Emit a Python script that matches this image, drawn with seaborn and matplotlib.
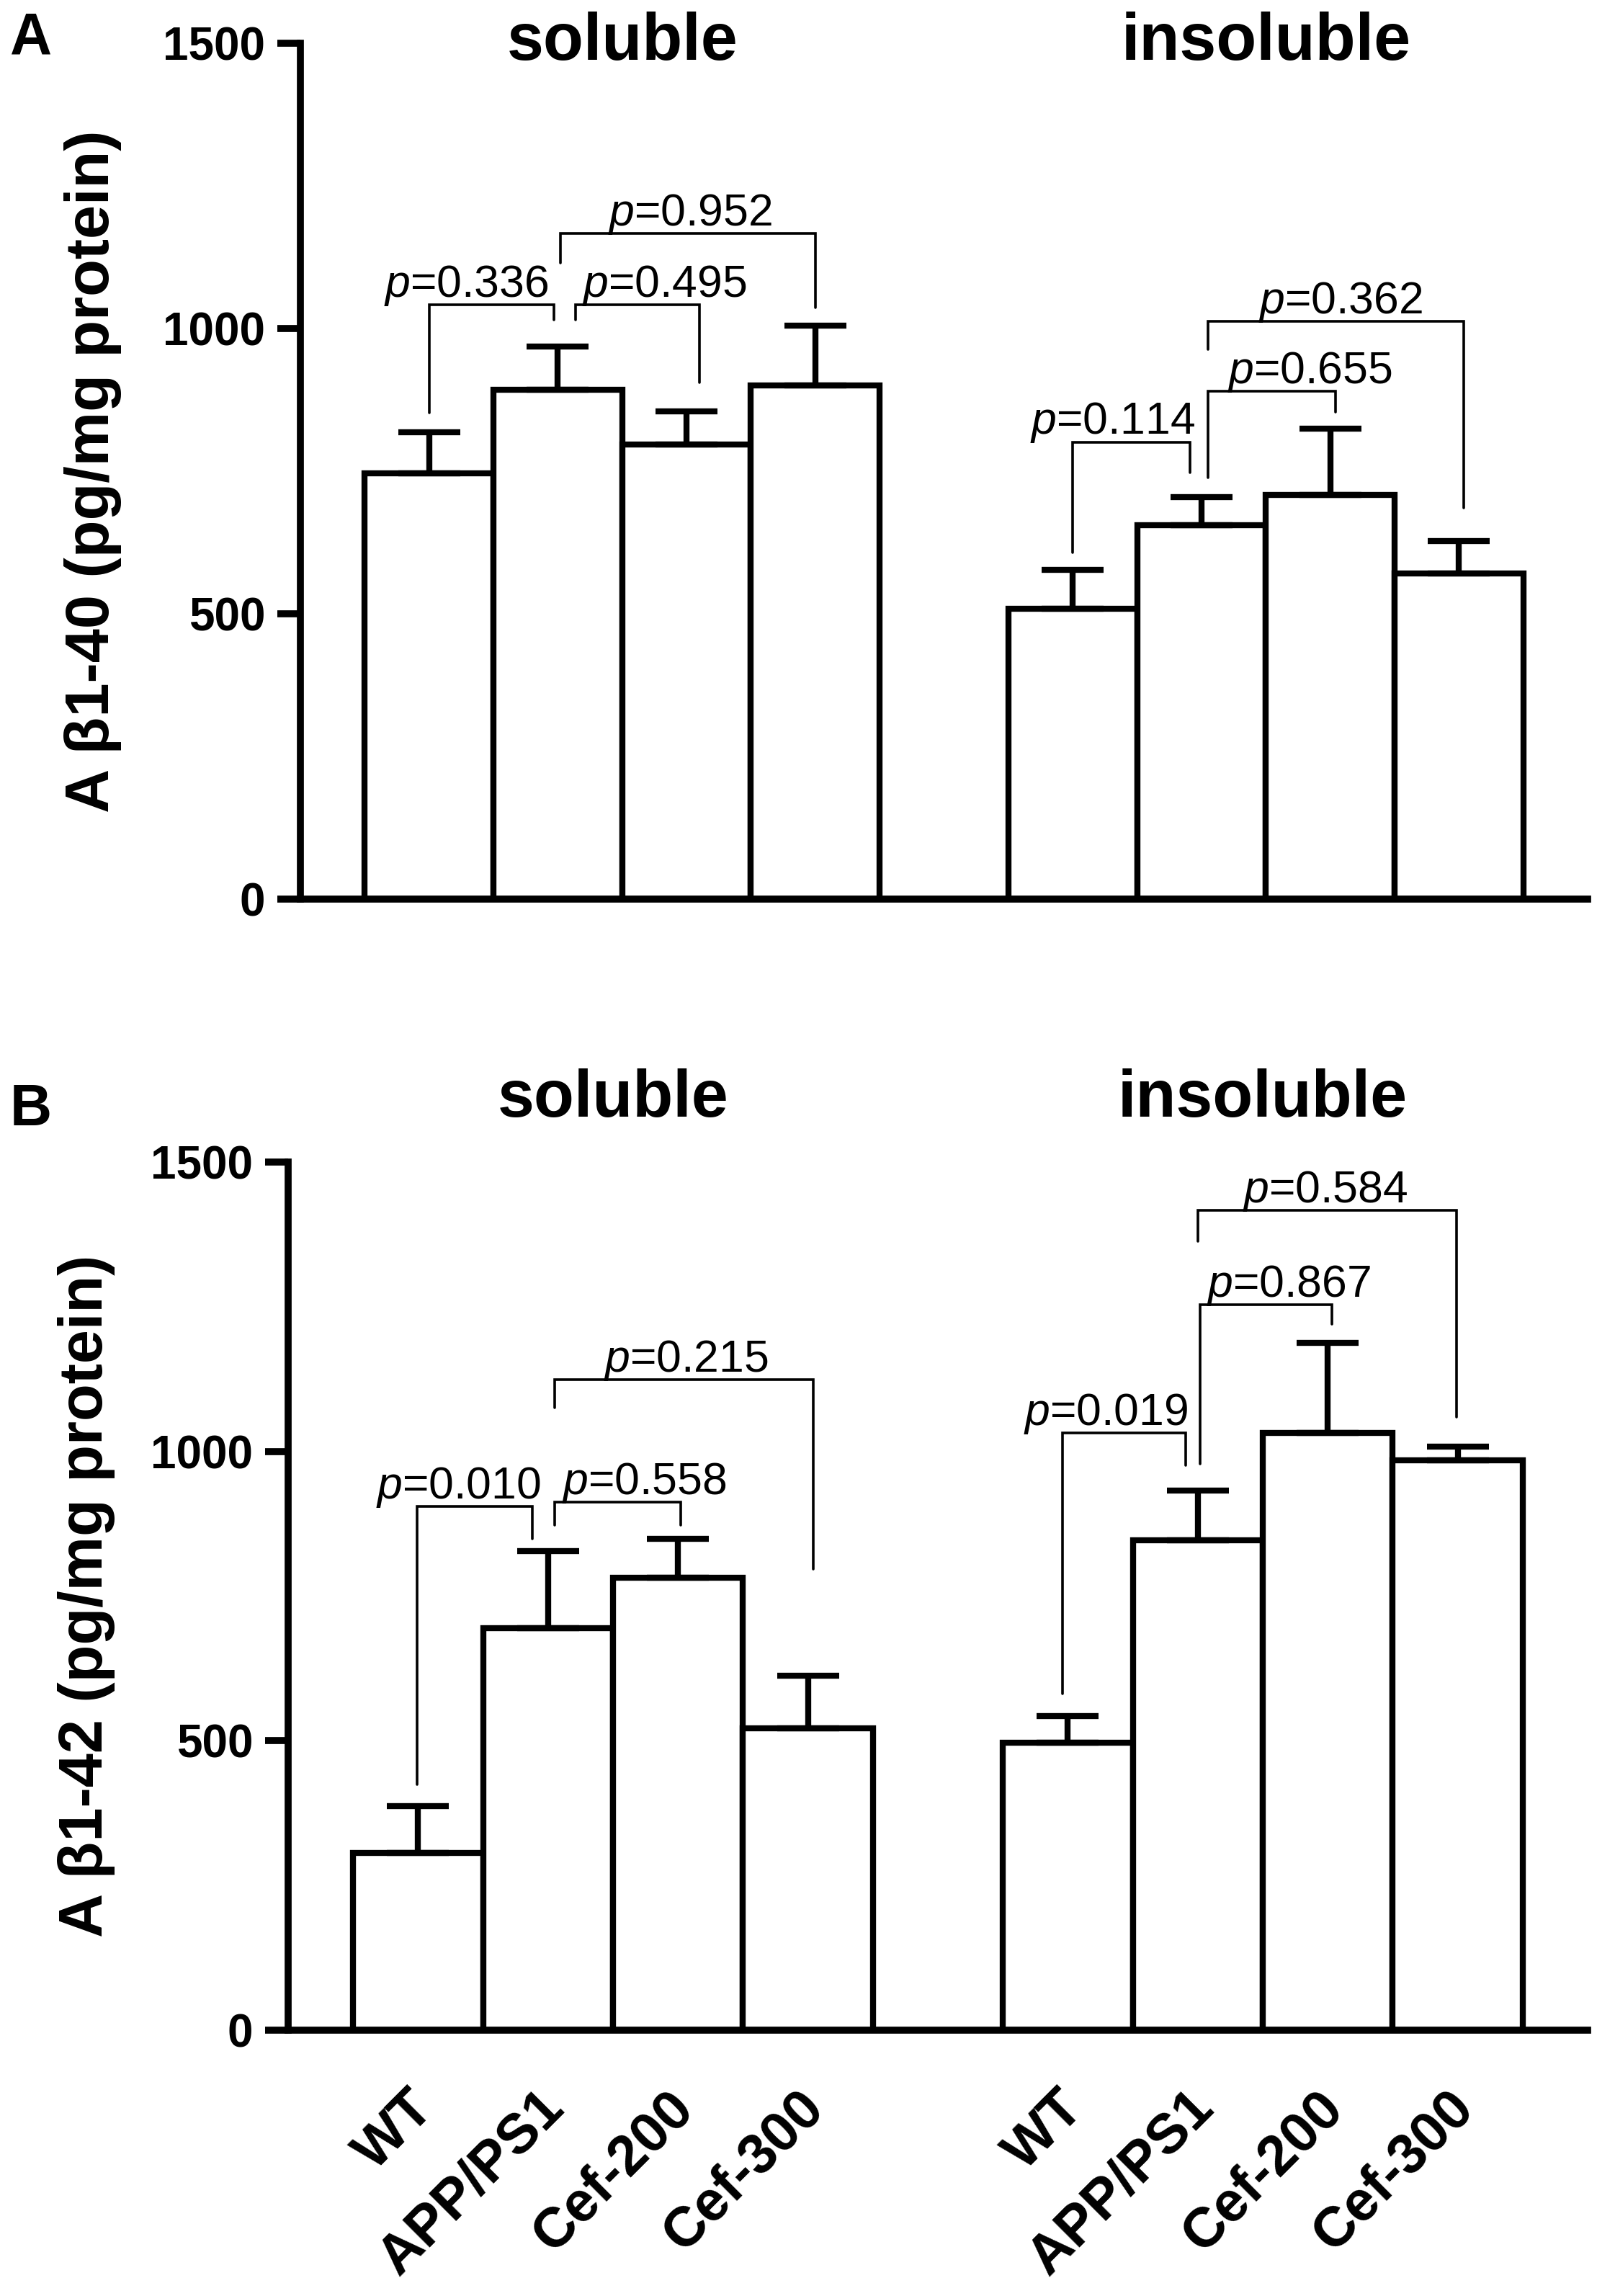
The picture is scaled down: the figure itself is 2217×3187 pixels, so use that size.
import numpy as np
import pandas as pd
import matplotlib
matplotlib.use('Agg')
import matplotlib.pyplot as plt
import matplotlib.transforms as mtransforms
import seaborn as sns

# --- data (mean and upper SEM) ---
groups = ['WT', 'APP/PS1', 'Cef-200', 'Cef-300']
fractions = ['soluble', 'insoluble']

a40_soluble = [746, 892, 797, 900]
a40_soluble_sem = [72, 76, 58, 105]
a40_insoluble = [509, 655, 708, 571]
a40_insoluble_sem = [68, 50, 116, 57]

a42_soluble = [306, 694, 782, 521]
a42_soluble_sem = [81, 134, 67, 92]
a42_insoluble = [497, 847, 1032, 984]
a42_insoluble_sem = [46, 85, 156, 24]

# p-values for the brackets
p_a40 = ['0.336', '0.495', '0.952', '0.114', '0.655', '0.362']
p_a42 = ['0.010', '0.558', '0.215', '0.019', '0.867', '0.584']

# bracket geometry: x left, x right, top, left end, right end, text x
br_a40 = [(0.0, 0.97, 1041, 852, 1015, 0.29),
          (1.14, 2.10, 1041, 1015, 905, 1.83),
          (1.02, 3.00, 1167, 1115, 1036, 2.03),
          (5.00, 5.91, 801, 607, 748, 5.31),
          (6.05, 7.04, 890, 738, 853, 6.84),
          (6.05, 8.04, 1013, 963, 686, 7.08)]
br_a42 = [(-0.01, 0.88, 905, 425, 849, 0.31),
          (1.05, 2.02, 912, 873, 873, 1.74),
          (1.05, 3.04, 1124, 1075, 796, 2.06),
          (4.96, 5.91, 1032, 581, 976, 5.29),
          (6.02, 7.03, 1253, 978, 1220, 6.70),
          (6.00, 7.99, 1416, 1363, 1059, 6.98)]

sns.set_style('ticks')
plt.rcParams['font.family'] = ['Liberation Sans', 'DejaVu Sans']
plt.rcParams['mathtext.fontset'] = 'custom'
plt.rcParams['mathtext.rm'] = 'Liberation Sans'
plt.rcParams['mathtext.it'] = 'Liberation Sans:italic'
for key in ['text.color', 'axes.labelcolor', 'xtick.color', 'ytick.color',
            'axes.edgecolor']:
    plt.rcParams[key] = 'black'


def draw_panel(ax, sol, sol_sem, insol, insol_sem, pvals, brackets,
               ylabel, title_y, label_x, show_xlabels):
    pos = [g * 5 + i for g in range(2) for i in range(4)]
    df = pd.DataFrame({'pos': pos, 'value': sol + insol,
                       'sem': sol_sem + insol_sem, 'group': groups * 2})
    sns.barplot(data=df, x='pos', y='value', native_scale=True, width=1.0,
                color='white', saturation=1, edgecolor='black', linewidth=6,
                errorbar=None, ax=ax)
    ax.errorbar(df['pos'], df['value'], yerr=[np.zeros(len(df)), df['sem']],
                fmt='none', ecolor='black', elinewidth=6, capsize=31,
                capthick=6, zorder=3)

    for p, (xl, xr, top, yl, yr, tx) in zip(pvals, brackets):
        ax.plot([xl, xl, xr, xr], [yl, top, top, yr], color='black', lw=2.6,
                solid_joinstyle='miter', zorder=4)
        ax.text(tx, top + 14, f'$p$={p}', ha='center', va='baseline',
                fontsize=45, zorder=5)

    for k, name in enumerate(fractions):
        ax.text(1.5 + 5 * k, title_y, name, ha='center', va='baseline',
                fontsize=66, fontweight='bold', clip_on=False)

    ax.set_xlim(-1, 9)
    ax.set_ylim(0, 1500)
    ax.set_yticks([0, 500, 1000, 1500])
    ax.set_yticklabels(['0', '500', '1000', '1500'], fontsize=46,
                       fontweight='bold')
    ax.tick_params(axis='y', length=23, width=7, pad=12)
    ax.tick_params(axis='x', length=0, pad=80)
    ax.set_xticks(pos)
    if show_xlabels:
        ax.set_xticklabels(groups * 2, rotation=45, ha='right',
                           va='baseline', rotation_mode='anchor',
                           fontsize=56, fontweight='bold')
        # nudge the slanted labels right, as in the original
        shift = mtransforms.ScaledTranslation(18 / 72, 0, ax.figure.dpi_scale_trans)
        for lab in ax.get_xticklabels():
            lab.set_transform(lab.get_transform() + shift)
    else:
        ax.set_xticklabels([])
    ax.set_xlabel('')
    ax.set_ylabel(ylabel, fontsize=61, fontweight='bold')
    ax.yaxis.set_label_coords(label_x, 0.5)
    sns.despine(ax=ax)
    for side in ['left', 'bottom']:
        ax.spines[side].set_linewidth(7)
        ax.spines[side].set_capstyle('projecting')


fig = plt.figure(figsize=(22.17, 31.87), dpi=100)
ax_a = fig.add_axes([0.1881, 0.6084, 0.8060, 0.3728])
ax_b = fig.add_axes([0.1804, 0.1158, 0.8137, 0.3781])

draw_panel(ax_a, a40_soluble, a40_soluble_sem, a40_insoluble, a40_insoluble_sem,
           p_a40, br_a40, 'A β1-40 (pg/mg protein)', 1471, -0.139, False)
draw_panel(ax_b, a42_soluble, a42_soluble_sem, a42_insoluble, a42_insoluble_sem,
           p_a42, br_a42, 'A β1-42 (pg/mg protein)', 1578, -0.133, True)

fig.text(0.0063, 0.9765, 'A', fontsize=58, fontweight='bold', va='baseline')
fig.text(0.0063, 0.5099, 'B', fontsize=58, fontweight='bold', va='baseline')

fig.savefig('out.png', dpi=100, facecolor='white')
